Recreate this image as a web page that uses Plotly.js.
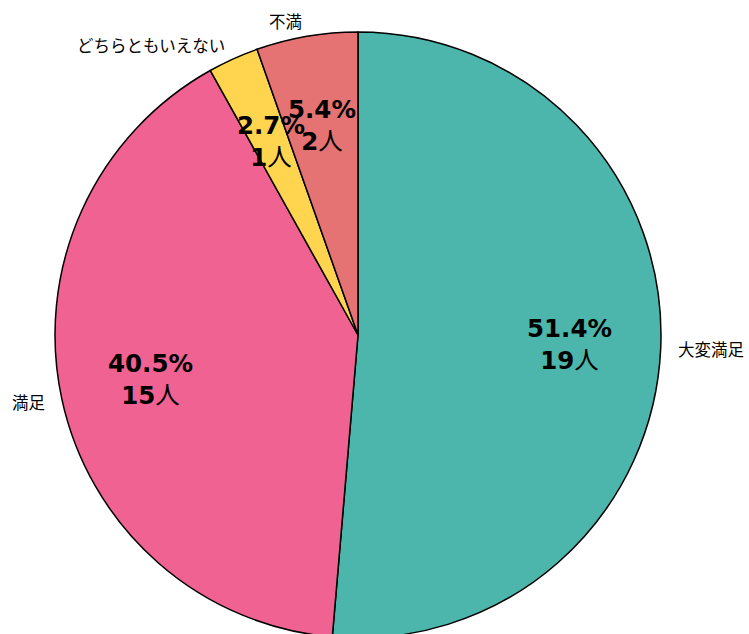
<!DOCTYPE html>
<html>
<head>
<meta charset="utf-8">
<script src="https://cdn.plot.ly/plotly-3.0.1.min.js"></script>
<style>
html,body{margin:0;padding:0;overflow:hidden;background:#fff;}
#chart{width:749px;height:640px;}
</style>
</head>
<body>
<div id="chart"></div>
<script>
const labels = ['大変満足', '満足', 'どちらともいえない', '不満'];
const counts = [19, 15, 1, 2];
const colors = ['#4DB6AC', '#F06292', '#FFD54F', '#E57373'];

const W = 749, H = 640;
const cx = 358, cy = 335, R = 303;
const labelDist = 1.05, pctDist = 0.7;

const total = counts.reduce((a, b) => a + b, 0);
const annotations = [];
let cum = 0;
counts.forEach((v, i) => {
  const midDeg = 90 - 360 * (cum + v / 2) / total;
  cum += v;
  const a = midDeg * Math.PI / 180;
  const c = Math.cos(a), s = Math.sin(a);
  // outside label
  const lx = cx + R * labelDist * c, ly = cy - R * labelDist * s;
  annotations.push({
    xref: 'paper', yref: 'paper', x: lx / W, y: 1 - ly / H,
    xanchor: c >= 0 ? 'left' : 'right', yanchor: 'middle',
    text: labels[i], showarrow: false,
    font: {family: 'Noto Sans CJK JP, sans-serif', size: 16.5, color: '#000'}
  });
  // inside label
  const px = cx + R * pctDist * c, py = cy - R * pctDist * s;
  const pct = (v / total * 100).toFixed(1) + '%';
  annotations.push({
    xref: 'paper', yref: 'paper', x: px / W, y: 1 - py / H,
    xanchor: 'center', yanchor: 'middle',
    text: '<b>' + pct + '</b><br><b>' + v + '</b>人', showarrow: false,
    font: {family: 'DejaVu Sans, Noto Sans CJK JP, sans-serif', size: 24.5, color: '#000'}
  });
});

const trace = {
  type: 'pie',
  labels: labels,
  values: counts,
  sort: false,
  direction: 'clockwise',
  rotation: 0,
  textinfo: 'none',
  hoverinfo: 'none',
  marker: {colors: colors, line: {color: '#000', width: 1.5}},
  domain: {x: [(cx - R) / W, (cx + R) / W], y: [(H - (cy + R)) / H, (H - (cy - R)) / H]},
  showlegend: false
};

const layout = {
  width: W, height: H,
  margin: {l: 0, r: 0, t: 0, b: 0},
  paper_bgcolor: '#fff',
  showlegend: false,
  annotations: annotations
};

Plotly.newPlot('chart', [trace], layout, {staticPlot: true});
</script>
</body>
</html>
